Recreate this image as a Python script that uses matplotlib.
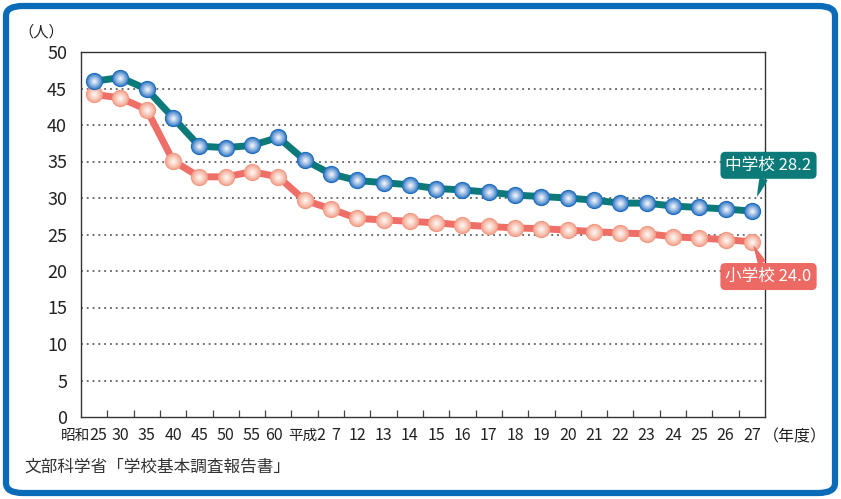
import matplotlib
matplotlib.use("Agg")
import matplotlib.pyplot as plt
import matplotlib.colors as mcolors
import matplotlib.transforms as mtransforms
from matplotlib.patches import FancyBboxPatch
import numpy as np

plt.rcParams['font.family'] = ['Noto Sans CJK JP', 'DejaVu Sans']

# 年度ラベル
years = ['昭和25', '30', '35', '40', '45', '50', '55', '60', '平成2', '7',
         '12', '13', '14', '15', '16', '17', '18', '19', '20', '21',
         '22', '23', '24', '25', '26', '27']

# 1学級当たりの児童・生徒数（人）
junior_high = [46.0, 46.5, 44.9, 41.0, 37.1, 36.9, 37.2, 38.3, 35.2, 33.3,
               32.4, 32.1, 31.8, 31.3, 31.1, 30.8, 30.4, 30.2, 30.0, 29.7,
               29.3, 29.3, 28.9, 28.7, 28.5, 28.2]
elementary = [44.2, 43.7, 42.1, 35.1, 32.9, 32.9, 33.6, 32.9, 29.7, 28.5,
              27.2, 27.0, 26.8, 26.6, 26.3, 26.1, 25.9, 25.8, 25.6, 25.4,
              25.2, 25.1, 24.7, 24.5, 24.3, 24.0]

W, H = 841, 499
fig = plt.figure(figsize=(W / 100, H / 100), dpi=100)

# 外枠（青い角丸）
frame = FancyBboxPatch((6 / W, 6 / H), 1 - 12 / W, 1 - 12 / H,
                       boxstyle="round,pad=0,rounding_size=0.02",
                       transform=fig.transFigure, facecolor='none',
                       edgecolor='#0a6cb9', linewidth=4.5, zorder=-1)
fig.patches.append(frame)

ax = fig.add_axes([81 / W, (H - 417) / H, (765 - 81) / W, (417 - 52) / H])
ax.set_facecolor('none')
x = np.arange(len(years))


def sphere_markers(xs, ys, edge, center, zorder):
    # 外側から内側へ色を薄くしながら重ねて球状に見せる
    n = 12
    base = 155
    c0 = np.array(mcolors.to_rgb(edge))
    c1 = np.array(mcolors.to_rgb(center))
    for i in range(n):
        f = i / (n - 1)
        size = base * (1 - 0.92 * f) ** 2
        col = c0 * (1 - f ** 0.8) + c1 * f ** 0.8
        ax.scatter(xs, ys, s=size, color=col, linewidths=0, zorder=zorder + i * 0.01)


ax.plot(x, elementary, color='#ee6e68', linewidth=5, zorder=3, solid_capstyle='round')
ax.plot(x, junior_high, color='#0b7a78', linewidth=5, zorder=5, solid_capstyle='round')
sphere_markers(x, elementary, '#f2967f', '#fff6f2', 4)
sphere_markers(x, junior_high, '#1466bd', '#f2f4fb', 6)

ax.set_xlim(-0.5, len(years) - 0.5)
ax.set_ylim(0, 50)
ax.set_yticks(np.arange(0, 51, 5))

# 元号は数字の左に少し小さく置く
eras = {}
shown = []
for i, y in enumerate(years):
    if y[:2] in ('昭和', '平成'):
        eras[i] = y[:2]
        shown.append(y[2:])
    else:
        shown.append(y)
ax.set_xticks(x)
ax.set_xticklabels(shown)
ax.set_xticks(np.arange(0.5, len(years) - 1, 1), minor=True)
ax.tick_params(axis='x', which='major', length=0, pad=7, labelsize=11.5, colors='#222222')
ax.tick_params(axis='x', which='minor', direction='in', length=5, width=0.9, color='#444444')
ax.tick_params(axis='y', length=0, pad=10, labelsize=13, colors='#222222')

shifts = {0: 4, 7: -4, 8: 16, 9: 5}
xl = ax.get_xticklabels()
for i, dx in shifts.items():
    xl[i].set_transform(xl[i].get_transform()
                        + mtransforms.ScaledTranslation(dx / 100, 0, fig.dpi_scale_trans))

fig.canvas.draw()
renderer = fig.canvas.get_renderer()
for i, era in eras.items():
    bb = xl[i].get_window_extent(renderer)
    fig.text((bb.x0 + 1) / W, (bb.y0 + 1) / H, era, fontsize=10.5, color='#222222',
             ha='right', va='bottom')

for v in range(5, 50, 5):
    ax.axhline(v, color='#444444', linewidth=1.1, linestyle=(0, (1.2, 2.6)), zorder=1)

for s in ax.spines.values():
    s.set_color('#333333')
    s.set_linewidth(1.0)

# 単位
fig.text(18 / W, 1 - 32 / H, '（人）', fontsize=11, color='#222222', va='center', ha='left')
fig.text(763 / W, 1 - 437 / H, '（年度）', fontsize=11.5, color='#222222', va='center', ha='left')

# 出典
fig.text(24 / W, 1 - 467 / H, '文部科学省「学校基本調査報告書」', fontsize=12,
         color='#333333', va='center', ha='left')

# 最新値の吹き出し
last = len(years) - 1
ax.annotate(f'中学校 {junior_high[-1]:.1f}', xy=(last, junior_high[-1]),
            xytext=(12, 33), textcoords='offset points', ha='center', va='center',
            fontsize=12, color='white', zorder=10,
            bbox=dict(boxstyle='round,pad=0.3,rounding_size=0.3', fc='#0b7a78', ec='none'),
            arrowprops=dict(arrowstyle='wedge,tail_width=0.5,shrink_factor=0.6',
                            fc='#0b7a78', ec='none', shrinkA=0, shrinkB=11))
ax.annotate(f'小学校 {elementary[-1]:.1f}', xy=(last, elementary[-1]),
            xytext=(12, -25), textcoords='offset points', ha='center', va='center',
            fontsize=12, color='white', zorder=10,
            bbox=dict(boxstyle='round,pad=0.3,rounding_size=0.3', fc='#ec6a63', ec='none'),
            arrowprops=dict(arrowstyle='wedge,tail_width=0.5,shrink_factor=0.6',
                            fc='#ec6a63', ec='none', shrinkA=0, shrinkB=3))

fig.savefig('out.png', dpi=100)
